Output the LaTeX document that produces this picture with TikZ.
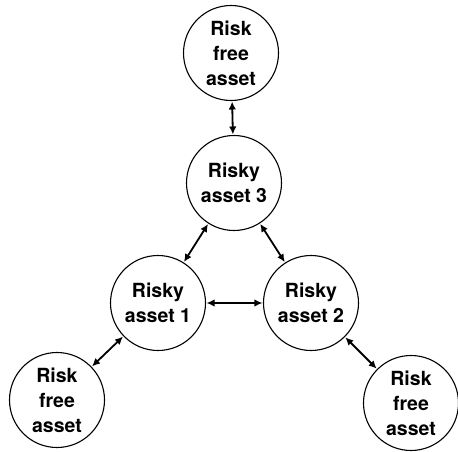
\documentclass[tikz,border=0pt]{standalone}
\usepackage{fontspec}
\setmainfont{TeX Gyre Heros}
\usetikzlibrary{arrows.meta}

\begin{document}
\begin{tikzpicture}[x=1pt,y=1pt,
  asset/.style={circle, draw, line width=1.1pt, minimum size=95pt, inner sep=0pt, align=center, font=\fontsize{19.5}{25}\selectfont\bfseries},
  link/.style={{Latex[length=8pt,width=7.5pt]}-{Latex[length=8pt,width=7.5pt]}, line width=1.8pt, shorten <=0.5pt, shorten >=0.5pt}]
\useasboundingbox (0,0) rectangle (458,451);
\node[asset] (rf3) at (231,398) {Risk\\free\\asset};
\node[asset] (ra3) at (234,268) {Risky\\asset 3};
\node[asset] (ra1) at (158,148) {Risky\\asset 1};
\node[asset] (ra2) at (311,148) {Risky\\asset 2};
\node[asset] (rf1) at (57,51) {Risk\\free\\asset};
\node[asset] (rf2) at (411,48) {Risk\\free\\asset};
\draw[link] (rf3) -- (ra3);
\draw[link] (ra3) -- (ra1);
\draw[link] (ra3) -- (ra2);
\draw[link] (ra1) -- (ra2);
\draw[link] (ra1) -- (rf1);
\draw[link] (ra2) -- (rf2);
\end{tikzpicture}
\end{document}
